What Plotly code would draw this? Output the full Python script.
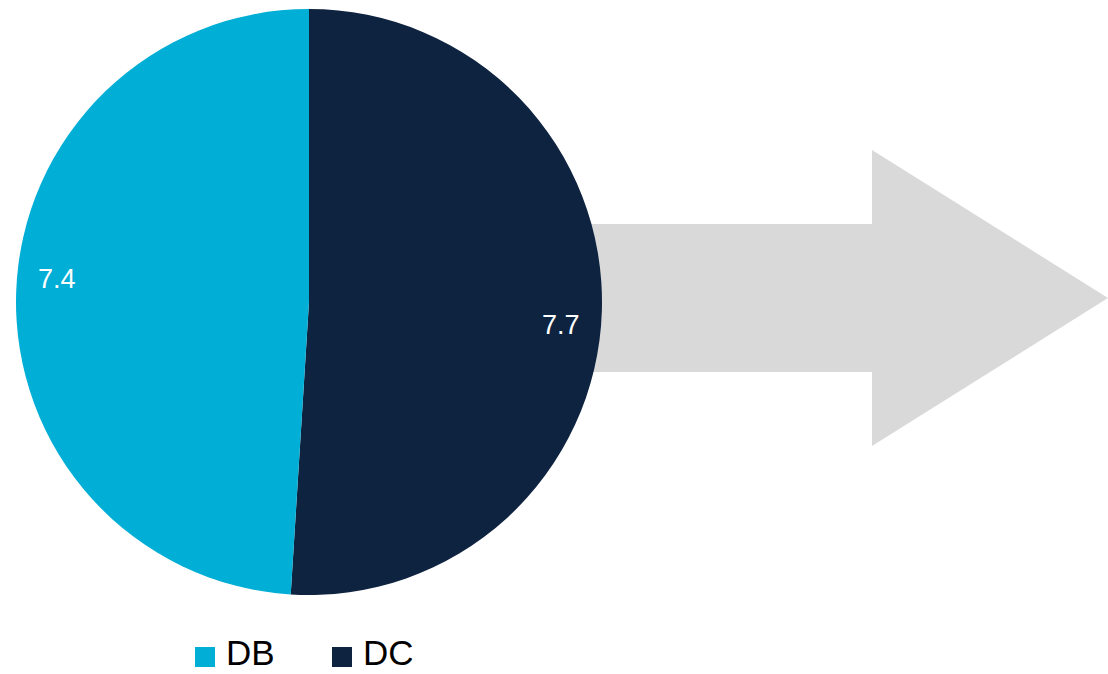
import math
import plotly.graph_objects as go

# Data
labels = ["DB", "DC"]
values = [7.4, 7.7]
colors = ["#00AED6", "#0E2340"]
arrow_color = "#D9D9D9"

W, H = 1108, 674


def px(x):
    return x / W


def py(y):
    return 1 - y / H


# Pie geometry (pixels)
cx, cy, r = 309, 302, 293

fig = go.Figure()
# DC runs clockwise from 12 o'clock, DB fills the left side
fig.add_trace(go.Pie(
    labels=labels[::-1],
    values=values[::-1],
    marker=dict(colors=colors[::-1], line=dict(width=0)),
    sort=False,
    direction="clockwise",
    rotation=0,
    textinfo="none",
    hoverinfo="label+value",
    showlegend=False,
    domain=dict(x=[px(cx - r), px(cx + r)], y=[py(cy + r), py(cy - r)]),
))

# Value labels near the rim of each slice
total = sum(values)
label_turn = 3.4  # degrees, small clockwise nudge of the label ring
pos = {"DC": 0.0}
pos["DB"] = 360 * values[1] / total
for lab, v in zip(labels, values):
    span = 360 * v / total
    mid = math.radians(pos[lab] + span / 2 + label_turn)  # clockwise from 12 o'clock
    lx = cx + 0.862 * r * math.sin(mid)
    ly = cy - 0.862 * r * math.cos(mid)
    fig.add_annotation(
        x=px(lx), y=py(ly), xref="paper", yref="paper",
        text=f"{v:.1f}", showarrow=False,
        font=dict(family="Liberation Sans, Arial, sans-serif", size=27, color="white"),
        xanchor="center", yanchor="middle",
    )

# Grey block arrow behind the pie
ax0, ax_head, ax_tip = 585, 872, 1108
s_top, s_bot = 224, 372
h_top, h_bot, tip_y = 150, 446, 298
path = (
    f"M {px(ax0)} {py(s_top)} L {px(ax_head)} {py(s_top)} L {px(ax_head)} {py(h_top)} "
    f"L {px(ax_tip)} {py(tip_y)} L {px(ax_head)} {py(h_bot)} L {px(ax_head)} {py(s_bot)} "
    f"L {px(ax0)} {py(s_bot)} Z"
)
fig.add_shape(type="path", path=path, xref="paper", yref="paper",
              fillcolor=arrow_color, line=dict(width=0), layer="below")

# Legend: colour squares with labels
leg_x0, leg_step, leg_y, sq = 195, 137, 657, 20
for i, (lab, col) in enumerate(zip(labels, colors)):
    x0 = leg_x0 + i * leg_step
    fig.add_shape(type="rect", xref="paper", yref="paper",
                  x0=px(x0), x1=px(x0 + sq), y0=py(leg_y + sq / 2), y1=py(leg_y - sq / 2),
                  fillcolor=col, line=dict(width=0))
    fig.add_annotation(
        x=px(x0 + sq + 9), y=0, xref="paper", yref="paper",
        text=lab, showarrow=False, xanchor="left", yanchor="bottom",
        font=dict(family="Liberation Sans, Arial, sans-serif", size=35, color="#000000"),
    )

fig.update_layout(
    width=W, height=H,
    margin=dict(l=0, r=0, t=0, b=0),
    paper_bgcolor="white",
    plot_bgcolor="white",
)

fig.write_html("out.html")
